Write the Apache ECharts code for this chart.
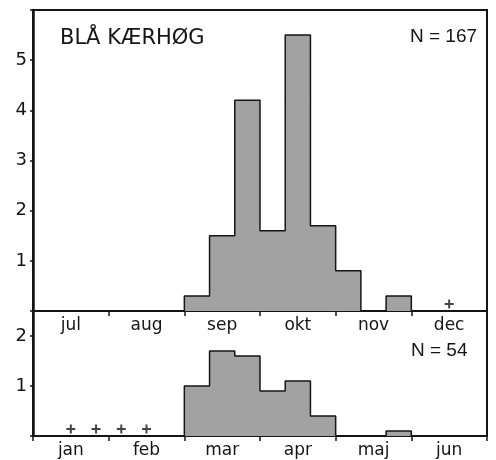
<!DOCTYPE html>
<html>
<head>
<meta charset="utf-8">
<script src="https://cdn.jsdelivr.net/npm/echarts@6/dist/echarts.min.js"></script>
<style>
  html, body { margin: 0; padding: 0; background: #fff; }
  #chart { width: 496px; height: 460px; }
</style>
</head>
<body>
<div id="chart"></div>
<script>
// ten-day periods (3 per month), autumn panel jul-dec, spring panel jan-jun
const autumnMonths = ['jul', 'aug', 'sep', 'okt', 'nov', 'dec'];
const springMonths = ['jan', 'feb', 'mar', 'apr', 'maj', 'jun'];
const autumnValues = [0, 0, 0, 0, 0, 0, 0.3, 1.5, 4.2, 1.6, 5.5, 1.7, 0.8, 0, 0.3, 0, 0, 0];
const springValues = [0, 0, 0, 0, 0, 0, 1.0, 1.7, 1.6, 0.9, 1.1, 0.4, 0, 0, 0.1, 0, 0, 0];
const autumnPlusBins = [16];
const springPlusBins = [1, 2, 3, 4];
const autumnTicks = [1, 2, 3, 4, 5];
const springTicks = [1, 2];

const FONT = 'DejaVu Sans';
const NFONT = 'Liberation Sans';
const INK = '#151515';

function stepData(values) {
    const pts = values.map((v, i) => [i, v]);
    pts.push([values.length, values[values.length - 1]]);
    return pts;
}

function plusData(bins) {
    return bins.map(b => [b + 0.5, 0]);
}

function monthAxis(grid, months) {
    return {
        type: 'category',
        gridIndex: grid,
        data: months,
        boundaryGap: true,
        position: 'bottom',
        axisLine: { show: true, lineStyle: { color: INK, width: 2 } },
        axisTick: { show: true, length: 5, lineStyle: { color: INK, width: 1.5 } },
        axisLabel: { color: INK, fontSize: 17, fontFamily: FONT, margin: 6 },
        splitLine: { show: false }
    };
}

function valueAxisY(grid, max, ticks) {
    return {
        type: 'value',
        gridIndex: grid,
        min: 0,
        max: max,
        interval: 1,
        axisLine: { show: true, lineStyle: { color: INK, width: 2.5 } },
        axisTick: { show: true, length: 3, lineStyle: { color: INK, width: 1.5 } },
        axisLabel: {
            color: INK, fontSize: 18, fontFamily: FONT, margin: 6,
            formatter: v => ticks.includes(v) ? String(v) : ''
        },
        splitLine: { show: false }
    };
}

function histSeries(xi, yi, values) {
    return {
        type: 'line',
        xAxisIndex: xi,
        yAxisIndex: yi,
        step: 'end',
        symbol: 'none',
        data: stepData(values),
        lineStyle: { color: INK, width: 1.5 },
        areaStyle: { color: '#a2a2a2', opacity: 1 },
        z: 2
    };
}

function plusSeries(xi, yi, bins) {
    return {
        type: 'scatter',
        xAxisIndex: xi,
        yAxisIndex: yi,
        symbol: 'path://M3.5 0h2v9h-2zM0 3.5h9v2h-9z',
        symbolSize: 9,
        symbolOffset: [0, -7],
        itemStyle: { color: INK },
        data: plusData(bins),
        z: 3
    };
}

const chart = echarts.init(document.querySelector('#chart'));
chart.setOption({
    animation: false,
    backgroundColor: '#fff',
    title: [
        { text: 'BLÅ KÆRHØG', left: 55, top: 23, textStyle: { fontSize: 21, fontWeight: 'normal', color: INK, fontFamily: FONT } },
        { text: 'N = 167', left: 405, top: 22, textStyle: { fontSize: 19, fontWeight: 'normal', color: INK, fontFamily: NFONT } },
        { text: 'N = 54', left: 406, top: 336, textStyle: { fontSize: 19, fontWeight: 'normal', color: INK, fontFamily: NFONT } }
    ],
    grid: [
        { left: 33, top: 10, width: 454, height: 301, show: true, borderColor: INK, borderWidth: 2, backgroundColor: 'transparent' },
        { left: 33, top: 311, width: 454, height: 125, show: true, borderColor: INK, borderWidth: 2, backgroundColor: 'transparent' }
    ],
    xAxis: [
        { type: 'value', gridIndex: 0, min: 0, max: 18, show: false },
        monthAxis(0, autumnMonths),
        { type: 'value', gridIndex: 1, min: 0, max: 18, show: false },
        monthAxis(1, springMonths)
    ],
    yAxis: [
        valueAxisY(0, 6, autumnTicks),
        valueAxisY(1, 2.5, springTicks)
    ],
    series: [
        histSeries(0, 0, autumnValues),
        plusSeries(0, 0, autumnPlusBins),
        histSeries(2, 1, springValues),
        plusSeries(2, 1, springPlusBins)
    ]
});
</script>
</body>
</html>
